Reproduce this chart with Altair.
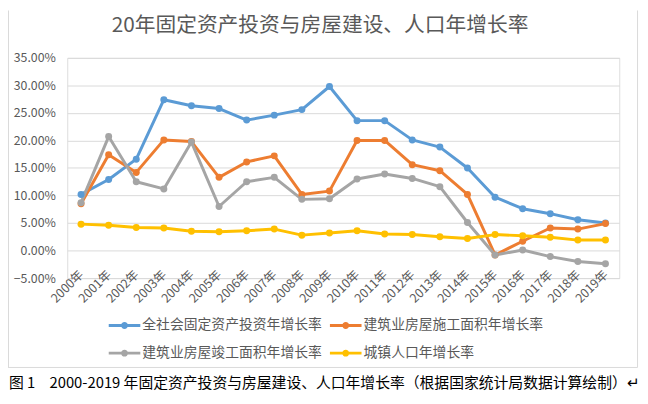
import altair as alt
import pandas as pd

years = [f"{y}年" for y in range(2000, 2020)]

series_names = [
    "全社会固定资产投资年增长率",
    "建筑业房屋施工面积年增长率",
    "建筑业房屋竣工面积年增长率",
    "城镇人口年增长率",
]
series_colors = ["#5B9BD5", "#ED7D31", "#A5A5A5", "#FFC000"]

# values in percent
invest = [10.2, 12.9, 16.6, 27.4, 26.3, 25.8, 23.7, 24.6, 25.6, 29.8,
          23.6, 23.6, 20.1, 18.8, 15.0, 9.7, 7.6, 6.7, 5.6, 5.0]
construct = [8.5, 17.4, 14.2, 20.1, 19.8, 13.3, 16.1, 17.2, 10.2, 10.8,
             20.0, 20.0, 15.6, 14.5, 10.2, -0.8, 1.7, 4.1, 3.9, 4.9]
completed = [8.7, 20.7, 12.5, 11.2, 19.7, 8.0, 12.5, 13.3, 9.3, 9.4,
             13.0, 13.9, 13.1, 11.6, 5.1, -0.8, 0.1, -1.1, -2.0, -2.4]
urban = [4.8, 4.6, 4.2, 4.1, 3.5, 3.4, 3.6, 3.9, 2.8, 3.2,
         3.6, 3.0, 2.9, 2.5, 2.2, 2.9, 2.7, 2.4, 1.9, 1.9]

y_ticks = [-0.05, 0.0, 0.05, 0.10, 0.15, 0.20, 0.25, 0.30, 0.35]

chart_title = "20年固定资产投资与房屋建设、人口年增长率"
caption_texts = ["图 1", "2000-2019 年固定资产投资与房屋建设、人口年增长率（根据国家统计局数据计算绘制）↵"]

rows = []
for name, vals in zip(series_names, [invest, construct, completed, urban]):
    for yr, v in zip(years, vals):
        rows.append({"year": yr, "series": name, "value": v / 100.0})
df = pd.DataFrame(rows)

FONT = "Noto Sans CJK SC"
GREY_TXT = "#595959"

legend_path = ("M-1.6,-0.15H-0.3V0.15H-1.6Z M0.3,-0.15H1.6V0.15H0.3Z "
               "M-0.35,0A0.35,0.35,0,1,1,0.35,0A0.35,0.35,0,1,1,-0.35,0Z")

x_enc = alt.X("year:N", sort=years, title=None,
              scale=alt.Scale(type="point", padding=0.5),
              axis=alt.Axis(labelAngle=-45, labelAlign="right", labelBaseline="middle",
                            labelFont=FONT, labelFontSize=12.5, labelColor=GREY_TXT,
                            domain=False, ticks=False, tickSize=0, grid=False,
                            offset=-28, labelPadding=22, labelOverlap=False))
y_enc = alt.Y("value:Q", title=None,
              scale=alt.Scale(domain=[-0.05, 0.35], nice=False, zero=False),
              axis=alt.Axis(values=y_ticks, format=".2%", domain=False, ticks=False,
                            grid=True, gridColor="#D9D9D9", gridWidth=1,
                            labelFont=FONT, labelFontSize=12.5, labelColor=GREY_TXT,
                            labelPadding=12))
color_scale = alt.Scale(domain=series_names, range=series_colors)
legend = alt.Legend(orient="none", legendX=48, legendY=261,
                    columns=2, direction="horizontal", title=None,
                    symbolType=legend_path, symbolSize=400,
                    symbolStrokeWidth=0, symbolOpacity=1, labelFont=FONT,
                    labelFontSize=14, labelColor=GREY_TXT,
                    labelOffset=8, columnPadding=8, rowPadding=11,
                    padding=0, labelLimit=400)
color_enc = alt.Color("series:N", scale=color_scale, sort=series_names, legend=legend)

base = alt.Chart(df)

lines = base.mark_line(strokeWidth=3, strokeJoin="round", strokeCap="round").encode(
    x=x_enc, y=y_enc, color=color_enc,
)

points = base.mark_circle(size=50, opacity=1).encode(
    x=x_enc, y=y_enc, color=color_enc,
)

one = pd.DataFrame({"a": [0]})
frame_right = alt.Chart(one).mark_rule(color="#D9D9D9", strokeWidth=1).encode(
    x=alt.value(577.5), y=alt.value(-48), y2=alt.value(313.5))
frame_bottom = alt.Chart(one).mark_rule(color="#D9D9D9", strokeWidth=1).encode(
    x=alt.value(-60), x2=alt.value(577.5), y=alt.value(313.5))
frame_left = alt.Chart(one).mark_rule(color="#D9D9D9", strokeWidth=1).encode(
    x=alt.value(-59.5), y=alt.value(-48), y2=alt.value(313.5))

title_text = alt.Chart(one).mark_text(align="center", baseline="middle", font=FONT,
                                      fontSize=21, color=GREY_TXT).encode(
    x=alt.value(256), y=alt.value(-32), text=alt.value(chart_title))

cap1 = alt.Chart(one).mark_text(align="left", baseline="middle", font=FONT,
                                fontSize=15, color="#000000").encode(
    x=alt.value(-59), y=alt.value(329), text=alt.value(caption_texts[0]))
cap2 = alt.Chart(one).mark_text(align="left", baseline="middle", font=FONT,
                                fontSize=15, color="#000000").encode(
    x=alt.value(-18), y=alt.value(329), text=alt.value(caption_texts[1]))

chart = alt.layer(lines, points, frame_right, frame_bottom, frame_left,
                  title_text, cap1, cap2).properties(
    width=559, height=223,
    autosize=alt.AutoSizeParams(type="none"),
    padding={"left": 60, "top": 48, "right": 21, "bottom": 125},
).configure_view(stroke=None).configure(background="white")

chart.save("out.html", embed_options={"renderer": "svg", "actions": False})
